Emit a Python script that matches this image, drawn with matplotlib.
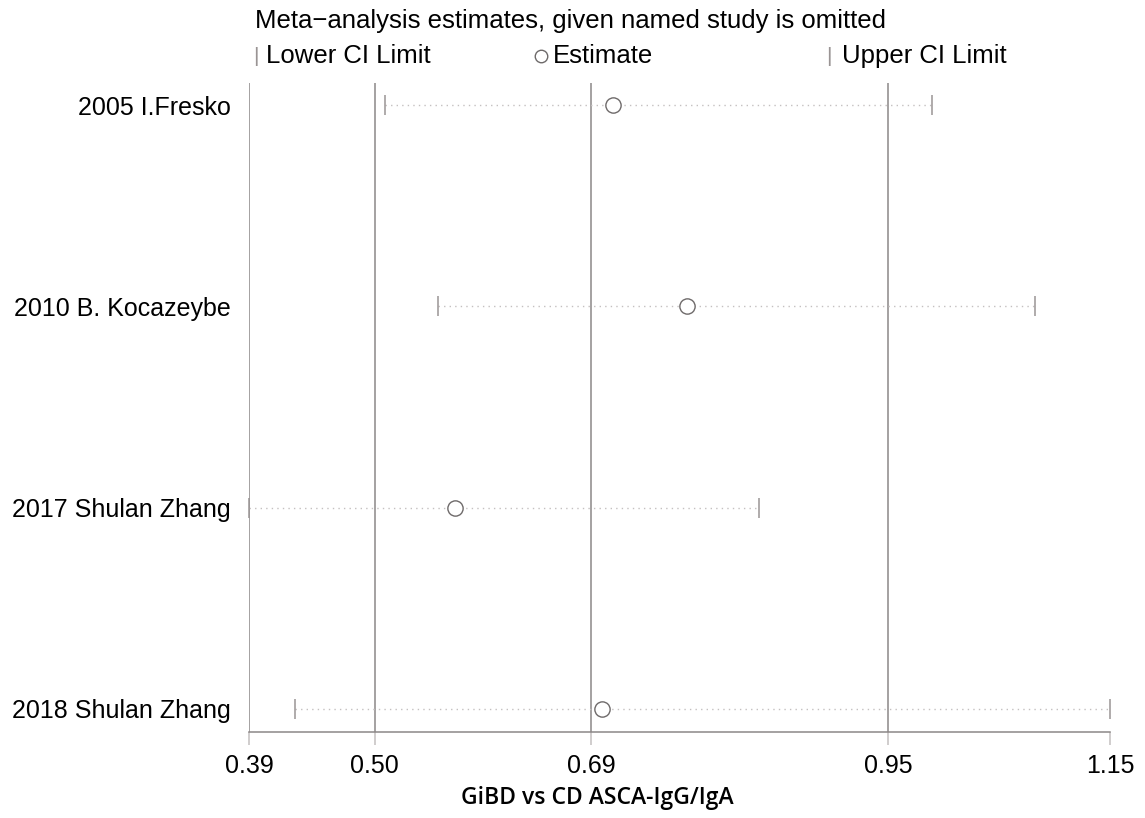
import matplotlib.pyplot as plt
import numpy as np

# leave-one-out meta-analysis results
studies = ["2005 I.Fresko", "2010 B. Kocazeybe", "2017 Shulan Zhang", "2018 Shulan Zhang"]
estimate = [0.711, 0.777, 0.572, 0.702]
lower = [0.510, 0.557, 0.390, 0.431]
upper = [0.993, 1.084, 0.840, 1.150]

# pooled estimate with all studies (lower CI, estimate, upper CI)
overall = [0.501, 0.692, 0.954]

plt.rcParams['font.family'] = ['Liberation Sans', 'DejaVu Sans']

fig = plt.figure(figsize=(11.45, 8.18), dpi=100)
ax = fig.add_axes([249/1145, 1 - 732/818, (1110 - 249)/1145, (732 - 83)/818])

y = np.arange(1, len(studies) + 1)
xmin, xmax = min(lower), max(upper)

# reference lines at the minimum and at the pooled values
for xv in [xmin] + overall:
    ax.axvline(xv, color='#8c8787', lw=1.1, zorder=1)

for yi, lo, est, hi in zip(y, lower, estimate, upper):
    ax.plot([lo, hi], [yi, yi], ls=(0, (1, 3)), color='#c4c0c0', lw=1, zorder=2, clip_on=False)
    ax.plot([lo, hi], [yi, yi], ls='none', marker='|', ms=15, mew=1.1, color='#9a9494', zorder=3, clip_on=False)
    ax.plot(est, yi, ls='none', marker='o', ms=11, mfc='white', mec='#6e6a6a', mew=1, zorder=4, clip_on=False)

ax.set_xlim(xmin, xmax)
ax.set_ylim(4 + 23/201.3, 1 - 22/201.3)

ticks = [xmin] + overall + [xmax]
ax.set_xticks(ticks)
ax.set_xticklabels([f'{t:.2f}' for t in ticks], fontsize=18)
ax.tick_params(axis='x', length=9.5, width=1.1, color='#c4c0c0', pad=6)

ax.set_yticks(y)
ax.set_yticklabels(studies, fontsize=18)
ax.tick_params(axis='y', length=0, pad=13)

for side in ['top', 'right', 'left']:
    ax.spines[side].set_visible(False)
ax.spines['bottom'].set_color('#8c8787')
ax.spines['bottom'].set_linewidth(1.1)

# heading and legend row
fig.text(255/1145, 1 - 21/818, 'Meta\u2212analysis estimates, given named study is omitted',
         fontsize=18.5, va='center', ha='left')
ly = 1 - 56/818
fig.text(253/1145, ly, '|', fontsize=15, color='#9a9494', va='center', ha='left')
fig.text(266/1145, ly, 'Lower CI Limit', fontsize=18.5, va='center', ha='left')
fig.lines.append(plt.Line2D([541/1145], [ly], transform=fig.transFigure, ls='none',
                            marker='o', ms=9, mfc='white', mec='#6e6a6a', mew=1))
fig.text(553/1145, ly, 'Estimate', fontsize=18.5, va='center', ha='left')
fig.text(826/1145, ly, '|', fontsize=15, color='#9a9494', va='center', ha='left')
fig.text(842/1145, ly, 'Upper CI Limit', fontsize=18.5, va='center', ha='left')

fig.text(597/1145, 1 - 798/818, 'GiBD vs CD ASCA-IgG/IgA', fontsize=16.5, weight='semibold',
         family=['Open Sans', 'DejaVu Sans'], va='center', ha='center')

fig.savefig('out.png', dpi=100)
